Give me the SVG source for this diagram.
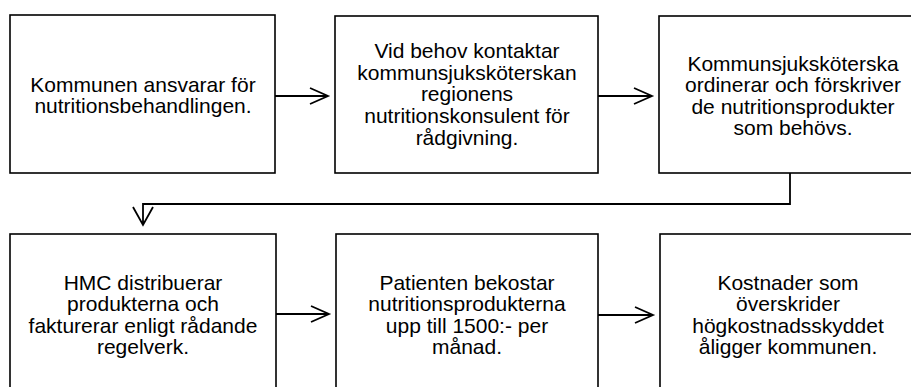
<svg xmlns="http://www.w3.org/2000/svg" width="911" height="387" viewBox="0 0 911 387">
<style>
.box{fill:#fff;stroke:#000;stroke-width:1.6}
.t{font-family:"Liberation Sans",Arial,sans-serif;font-size:21px;fill:#000;text-anchor:middle}
.c{fill:none;stroke:#000;stroke-width:1.8}
</style>
<rect width="911" height="387" fill="#fff"/>
<g id="n1"><rect class="box" x="10" y="15" width="265" height="158"/>
<text class="t"><tspan x="143" y="92">Kommunen ansvarar för</tspan><tspan x="143" y="113">nutritionsbehandlingen.</tspan></text></g>
<g id="n2"><rect class="box" x="335" y="16" width="263" height="157"/>
<text class="t"><tspan x="467" y="58">Vid behov kontaktar</tspan><tspan x="467" y="80">kommunsjuksköterskan</tspan><tspan x="467" y="101">regionens</tspan><tspan x="467" y="123">nutritionskonsulent för</tspan><tspan x="467" y="145">rådgivning.</tspan></text></g>
<g id="n3"><rect class="box" x="659" y="16" width="270" height="157"/>
<text class="t"><tspan x="793" y="71">Kommunsjuksköterska</tspan><tspan x="793" y="92">ordinerar och förskriver</tspan><tspan x="793" y="114">de nutritionsprodukter</tspan><tspan x="793" y="135">som behövs.</tspan></text></g>
<g id="n4"><rect class="box" x="10" y="234" width="266" height="170"/>
<text class="t"><tspan x="143" y="290">HMC distribuerar</tspan><tspan x="143" y="311">produkterna och</tspan><tspan x="143" y="333">fakturerar enligt rådande</tspan><tspan x="143" y="354">regelverk.</tspan></text></g>
<g id="n5"><rect class="box" x="336" y="234" width="262" height="170"/>
<text class="t"><tspan x="467" y="290">Patienten bekostar</tspan><tspan x="467" y="311">nutritionsprodukterna</tspan><tspan x="467" y="333">upp till 1500:- per</tspan><tspan x="467" y="354">månad.</tspan></text></g>
<g id="n6"><rect class="box" x="660" y="234" width="270" height="170"/>
<text class="t"><tspan x="788" y="290">Kostnader som</tspan><tspan x="788" y="311">överskrider</tspan><tspan x="788" y="333">högkostnadsskyddet</tspan><tspan x="788" y="354">åligger kommunen.</tspan></text></g>
<g id="connectors">
<path class="c" d="M275 96H328M310 88L328 96L310 104"/>
<path class="c" d="M598 96H652M634 88L652 96L634 104"/>
<path class="c" d="M790 173V204H143V225M133 207L143 225L153 207"/>
<path class="c" d="M276 314H329M311 306L329 314L311 322"/>
<path class="c" d="M598 315H653M635 307L653 315L635 323"/>
</g>
</svg>
